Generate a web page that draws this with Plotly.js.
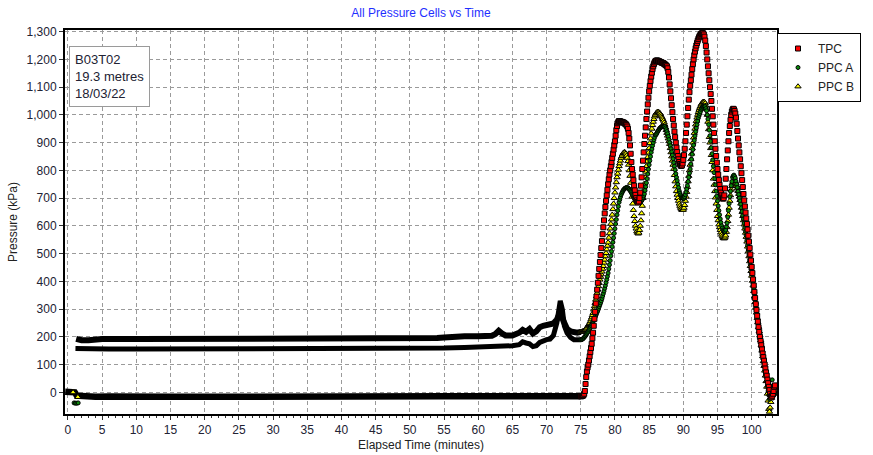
<!DOCTYPE html>
<html>
<head>
<meta charset="utf-8">
<script src="https://cdn.plot.ly/plotly-3.0.1.min.js"></script>
<style>html,body{margin:0;padding:0;background:#fff;}#chart{width:873px;height:455px;}</style>
</head>
<body>
<div id="chart"></div>
<script>
// ---- Baseline (quiet period) readings, drawn as the dense band ----
const tpcBaseTime = [-0.4, 0, 0.5, 1.0, 1.3, 2, 4, 6, 8, 10, 15, 20, 25, 30, 35, 40, 45, 50, 55, 60, 65, 70, 72, 74, 75];
const tpcBaseVal  = [2, 3, 2, 0, -12, -14, -16, -15, -16, -15, -16, -16, -15, -15, -15, -15, -16, -15, -14, -14, -13, -13, -14, -14, -14];

const ppcABaseTime = [1.1, 2, 3, 4, 6, 10, 20, 30, 40, 50, 55, 58, 60, 62, 64, 65, 66, 66.5, 67, 67.5, 68, 68.5, 69, 69.5, 70, 70.5, 71, 71.5, 72, 72.3, 72.6, 73, 73.5, 74, 74.5, 75];
const ppcABaseVal  = [158, 157, 155, 155, 156, 156, 156, 156, 156, 157, 160, 162, 163, 165, 167, 168, 172, 182, 178, 175, 165, 168, 180, 186, 190, 192, 205, 250, 330, 300, 240, 214, 198, 190, 188, 190];

const ppcBBaseTime = [1.2, 1.6, 2, 3, 4, 5, 10, 20, 30, 40, 50, 52, 54, 55, 56, 58, 60, 61, 62, 62.5, 63, 63.5, 64, 65, 65.5, 66, 66.5, 67, 67.5, 68, 68.5, 69, 69.5, 70, 70.5, 71, 71.5, 72, 72.5, 73, 73.5, 74, 74.5, 75];
const ppcBBaseVal  = [193, 190, 188, 188, 190, 192, 192, 192, 192, 192, 193, 194, 196, 198, 200, 202, 202, 203, 204, 210, 222, 212, 205, 205, 208, 215, 225, 218, 228, 212, 220, 235, 240, 242, 245, 248, 262, 290, 255, 228, 220, 216, 215, 218];

// ---- Stray start-up readings ----
const ppcAStartTime = [0.9, 1.1, 1.3, 1.5];
const ppcAStartVal  = [-38, -39, -39, -38];
const ppcBStartTime = [0.75, 1.45];
const ppcBStartVal  = [0, -17];

// ---- Event readings (every 0.1 minute) ----
const eventTime = [
75,75.1,75.2,75.3,75.4,75.5,75.6,75.7,75.8,75.9,
76,76.1,76.2,76.3,76.4,76.5,76.6,76.7,76.8,76.9,
77,77.1,77.2,77.3,77.4,77.5,77.6,77.7,77.8,77.9,
78,78.1,78.2,78.3,78.4,78.5,78.6,78.7,78.8,78.9,
79,79.1,79.2,79.3,79.4,79.5,79.6,79.7,79.8,79.9,
80,80.1,80.2,80.3,80.4,80.5,80.6,80.7,80.8,80.9,
81,81.1,81.2,81.3,81.4,81.5,81.6,81.7,81.8,81.9,
82,82.1,82.2,82.3,82.4,82.5,82.6,82.7,82.8,82.9,
83,83.1,83.2,83.3,83.4,83.5,83.6,83.7,83.8,83.9,
84,84.1,84.2,84.3,84.4,84.5,84.6,84.7,84.8,84.9,
85,85.1,85.2,85.3,85.4,85.5,85.6,85.7,85.8,85.9,
86,86.1,86.2,86.3,86.4,86.5,86.6,86.7,86.8,86.9,
87,87.1,87.2,87.3,87.4,87.5,87.6,87.7,87.8,87.9,
88,88.1,88.2,88.3,88.4,88.5,88.6,88.7,88.8,88.9,
89,89.1,89.2,89.3,89.4,89.5,89.6,89.7,89.8,89.9,
90,90.1,90.2,90.3,90.4,90.5,90.6,90.7,90.8,90.9,
91,91.1,91.2,91.3,91.4,91.5,91.6,91.7,91.8,91.9,
92,92.1,92.2,92.3,92.4,92.5,92.6,92.7,92.8,92.9,
93,93.1,93.2,93.3,93.4,93.5,93.6,93.7,93.8,93.9,
94,94.1,94.2,94.3,94.4,94.5,94.6,94.7,94.8,94.9,
95,95.1,95.2,95.3,95.4,95.5,95.6,95.7,95.8,95.9,
96,96.1,96.2,96.3,96.4,96.5,96.6,96.7,96.8,96.9,
97,97.1,97.2,97.3,97.4,97.5,97.6,97.7,97.8,97.9,
98,98.1,98.2,98.3,98.4,98.5,98.6,98.7,98.8,98.9,
99,99.1,99.2,99.3,99.4,99.5,99.6,99.7,99.8,99.9,
100,100.1,100.2,100.3,100.4,100.5,100.6,100.7,100.8,100.9,
101,101.1,101.2,101.3,101.4,101.5,101.6,101.7,101.8,101.9,
102,102.1,102.2,102.3,102.4,102.5,102.6,102.7,102.8,102.9,
103,103.1,103.2,103.3,103.4];

const tpcEvent = [
-14,-14,-13,-12,-10,-5,5,30,55,75,
90,100,115,130,145,160,175,195,215,240,
265,290,320,345,370,395,420,445,470,495,
520,545,570,595,620,645,668,690,710,730,
750,768,785,800,815,830,845,860,875,890,
905,925,945,960,970,975,978,978,976,975,
975,974,973,972,970,968,966,963,958,950,
935,915,890,860,830,805,785,765,745,728,
712,700,692,686,684,688,700,720,745,775,
805,835,865,895,925,955,985,1012,1038,1062,
1085,1105,1122,1138,1152,1165,1175,1183,1189,1193,
1195,1196,1196,1195,1194,1193,1191,1190,1189,1188,
1187,1186,1184,1182,1180,1178,1175,1168,1155,1135,
1110,1085,1060,1035,1010,985,962,940,920,900,
882,866,852,840,830,823,818,816,818,825,
838,855,878,905,935,965,995,1025,1055,1082,
1105,1125,1145,1165,1183,1200,1215,1228,1240,1250,
1259,1267,1274,1280,1285,1289,1292,1294,1295,1294,
1290,1282,1268,1248,1225,1200,1175,1150,1125,1100,
1075,1050,1022,995,965,935,905,878,852,828,
805,785,765,748,733,720,710,702,698,700,
710,735,770,805,840,872,905,935,960,982,
1000,1012,1019,1022,1020,1014,1005,990,968,942,
915,890,865,840,815,790,765,740,715,692,
670,648,627,607,587,565,543,520,497,475,
452,430,407,385,362,340,318,297,276,255,
235,218,200,185,170,155,140,127,114,100,
86,72,60,46,33,20,8,-5,-15,-18,
-12,-5,5,20,25];

const ppcAEvent = [
190,190,191,193,195,198,201,204,208,212,
216,220,225,230,235,240,245,250,255,260,
265,271,277,283,289,295,302,309,316,323,
330,338,347,356,365,375,385,396,407,418,
430,445,460,475,492,508,525,541,557,573,
590,607,623,640,655,670,685,695,704,712,
718,723,728,731,734,736,737,738,738,737,
735,732,728,724,720,715,710,705,700,696,
692,690,688,687,686,685,685,686,688,691,
695,701,708,715,728,741,755,770,787,804,
820,835,850,865,877,889,900,910,919,928,
928,933,938,942,946,950,953,955,957,959,
960,960,959,958,953,947,940,932,922,911,
900,889,878,867,855,842,828,815,802,788,
775,763,750,738,726,718,711,705,702,700,
698,700,705,712,722,733,745,760,775,790,
805,823,840,858,875,891,908,924,940,953,
965,978,990,998,1005,1012,1020,1024,1028,1031,
1033,1032,1030,1023,1015,1000,985,965,945,925,
905,882,860,838,815,792,770,748,725,707,
690,672,655,640,625,612,600,592,585,581,
578,580,585,597,610,632,655,680,705,725,
745,760,775,780,783,778,772,761,750,738,
725,713,700,690,678,665,652,638,625,610,
595,580,565,548,530,513,495,478,460,444,
428,410,392,373,355,337,318,299,280,264,
248,232,215,198,180,163,145,128,110,93,
75,58,40,22,5,-10,-25,-15,0,20,
45,15,-10,-8,-5];

const ppcBEvent = [
218,218,219,220,221,222,224,226,229,233,
238,242,246,250,256,263,270,278,286,298,
310,322,334,346,358,370,382,394,406,416,
425,435,445,455,467,478,490,502,515,528,
540,557,573,590,607,623,640,660,680,700,
720,738,757,775,788,802,815,825,835,845,
851,857,862,864,866,864,860,853,845,833,
820,800,780,755,730,705,680,657,635,617,
600,590,580,575,572,575,585,600,620,645,
672,700,728,752,775,795,815,832,848,864,
880,898,915,933,950,963,975,985,994,1000,
1005,1008,1011,1011,1010,1008,1005,1000,995,990,
985,979,972,964,955,945,935,925,915,905,
895,880,865,850,835,820,805,783,760,742,
725,712,700,690,680,672,665,661,657,657,
658,665,675,690,705,722,740,760,780,800,
820,840,860,880,900,918,935,950,965,978,
990,1000,1010,1018,1025,1031,1037,1041,1045,1047,
1047,1046,1042,1033,1020,1000,975,948,920,900,
880,855,830,800,770,748,725,702,680,657,
635,620,605,595,585,576,568,562,557,555,
555,558,565,578,595,617,640,665,690,710,
730,743,755,760,765,763,760,753,745,735,
725,715,705,693,680,665,650,635,620,605,
590,575,560,543,525,508,490,472,455,437,
420,402,385,365,345,325,305,287,268,252,
235,220,205,188,170,150,130,112,95,78,
60,40,20,-5,-30,-60,-70,-55,-35,-20,
-10,-5,0,5,10];

const seriesNames = ['TPC', 'PPC A', 'PPC B'];
const tickVals = [0, 100, 200, 300, 400, 500, 600, 700, 800, 900, 1000, 1100, 1200, 1300];

// ---- Traces ----
const bandLine = (x, y, w, grp) => ({
  type: 'scatter', mode: 'lines', x: x, y: y, legendgroup: grp, showlegend: false,
  line: {color: '#000000', width: w}, hoverinfo: 'skip', cliponaxis: true
});

const traces = [
  bandLine(tpcBaseTime, tpcBaseVal, 6.5, 'tpc'),
  bandLine(ppcABaseTime, ppcABaseVal, 5, 'ppca'),
  bandLine(ppcBBaseTime, ppcBBaseVal, 6, 'ppcb'),
  {
    type: 'scatter', mode: 'markers', name: seriesNames[2], legendgroup: 'ppcb',
    x: ppcBStartTime.concat(eventTime), y: ppcBStartVal.concat(ppcBEvent),
    marker: {symbol: 'triangle-up', size: 5.5, color: '#ffff00', line: {color: '#000000', width: 1}},
    cliponaxis: true
  },
  {
    type: 'scatter', mode: 'markers', name: seriesNames[1], legendgroup: 'ppca',
    x: ppcAStartTime.concat(eventTime), y: ppcAStartVal.concat(ppcAEvent),
    marker: {symbol: 'circle', size: 4, color: '#0a8a0a', line: {color: '#000000', width: 1}},
    cliponaxis: true
  },
  {
    type: 'scatter', mode: 'markers', name: seriesNames[0], legendgroup: 'tpc',
    x: eventTime, y: tpcEvent,
    marker: {symbol: 'square', size: 5, color: '#ff0000', line: {color: '#000000', width: 1}},
    cliponaxis: true
  }
];

const fontFam = '"Liberation Sans", Arial, sans-serif';
const layout = {
  width: 873, height: 455,
  margin: {l: 65, r: 90, t: 30, b: 41},
  paper_bgcolor: '#ffffff', plot_bgcolor: '#ffffff',
  font: {family: fontFam, size: 12, color: '#222222'},
  showlegend: true,
  title: {
    text: 'All Pressure Cells vs Time',
    font: {family: fontFam, size: 12, color: '#1f2fff'},
    x: 0.5, xref: 'paper', xanchor: 'center',
    y: 1 - 13 / 455, yref: 'container', yanchor: 'middle'
  },
  xaxis: {
    range: [-0.43, 103.7], tick0: 0, dtick: 5,
    ticks: 'outside', ticklen: 4, tickwidth: 1, tickcolor: '#333333',
    showgrid: true, gridcolor: '#9a9a9a', gridwidth: 1, griddash: '4px,3px',
    showline: true, linewidth: 2, linecolor: '#000000', mirror: true,
    zeroline: false,
    minor: {dtick: 1, tick0: 0, ticks: 'outside', ticklen: 2, tickcolor: '#333333', showgrid: false},
    tickfont: {family: fontFam, size: 12, color: '#222233'},
    title: {text: 'Elapsed Time (minutes)', font: {family: fontFam, size: 12, color: '#222222'}, standoff: 4}
  },
  yaxis: {
    range: [-78, 1306], tickmode: 'array', tickvals: tickVals,
    tickformat: ',d',
    ticks: 'outside', ticklen: 4, tickwidth: 1, tickcolor: '#333333',
    showgrid: true, gridcolor: '#9a9a9a', gridwidth: 1, griddash: '4px,3px',
    showline: true, linewidth: 2, linecolor: '#000000', mirror: true,
    zeroline: false,
    tickfont: {family: fontFam, size: 12, color: '#222233'},
    title: {text: 'Pressure (kPa)', font: {family: fontFam, size: 12, color: '#222222'}, standoff: 6}
  },
  legend: {
    x: 1.0, xanchor: 'left',
    y: (414 - 33) / 384, yanchor: 'top',
    bordercolor: '#000000', borderwidth: 1, bgcolor: '#ffffff',
    traceorder: 'reversed', itemwidth: 30,
    font: {family: fontFam, size: 12, color: '#222222'}
  },
  annotations: [{
    text: 'B03T02<br>19.3 metres<br>18/03/22',
    xref: 'paper', yref: 'paper',
    x: (69 - 65) / 718, y: (414 - 46) / 384,
    xanchor: 'left', yanchor: 'top', align: 'left', showarrow: false,
    bordercolor: '#9a9a9a', borderwidth: 1, borderpad: 5, bgcolor: '#ffffff',
    font: {family: fontFam, size: 13, color: '#222233'}
  }]
};

Plotly.newPlot('chart', traces, layout, {staticPlot: true, displayModeBar: false});
</script>
</body>
</html>
